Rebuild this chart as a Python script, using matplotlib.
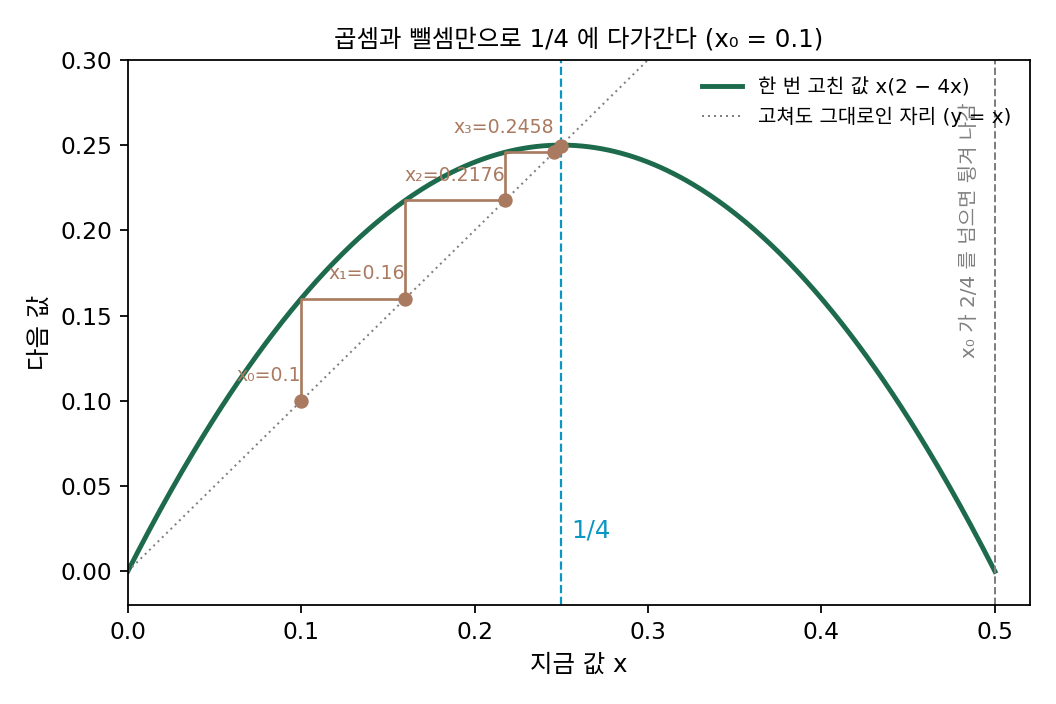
import numpy as np
import matplotlib
matplotlib.use("Agg")
import matplotlib.pyplot as plt

plt.rcParams['font.family'] = ['DejaVu Sans', 'Noto Sans CJK KR']
plt.rcParams['axes.unicode_minus'] = False
plt.rcParams['xtick.labelsize'] = 10.5
plt.rcParams['ytick.labelsize'] = 10.5

# iterates
iterates = [0.1, 0.16, 0.2176, 0.2458, 0.2497]
labels = ["x₀=0.1", "x₁=0.16", "x₂=0.2176", "x₃=0.2458"]

green = "#1d6b4c"
brown = "#a97a60"
blue = "#0a95c2"

fig, ax = plt.subplots(figsize=(6.6, 4.4), dpi=160)

xs = np.linspace(0, 0.5, 400)
ax.plot(xs, xs * (2 - 4 * xs), color=green, lw=2.2, label="한 번 고친 값 x(2 − 4x)")
ax.plot([0, 0.52], [0, 0.52], color="gray", lw=0.9, ls=(0, (1, 2)), label="고쳐도 그대로인 자리 (y = x)")

# cobweb staircase
sx, sy = [iterates[0]], [iterates[0]]
for a, b in zip(iterates[:-1], iterates[1:]):
    sx += [a, b]
    sy += [b, b]
ax.plot(sx, sy, color=brown, lw=1.2)
ax.scatter(iterates, iterates, color=brown, s=30, zorder=5)

for v, lab in zip(iterates[:4], labels):
    ax.annotate(lab, (v, v), xytext=(0, 7), textcoords="offset points",
                ha="right", va="bottom", color=brown, fontsize=8.5)

ax.axvline(0.25, color=blue, ls="--", lw=1)
ax.text(0.2555, 0.02, "1/4", color=blue, fontsize=11)
ax.axvline(0.5, color="gray", ls="--", lw=0.9)
ax.text(0.4855, 0.2, "x₀ 가 2/4 를 넘으면 튕겨 나감", rotation=90, color="gray",
        fontsize=9, ha="center", va="center")

ax.set_xlim(0, 0.52)
ax.set_ylim(-0.02, 0.30)
ax.set_xlabel("지금 값 x", fontsize=11)
ax.set_ylabel("다음 값", fontsize=11)
ax.set_title("곱셈과 뺄셈만으로 1/4 에 다가간다 (x₀ = 0.1)", fontsize=11)
ax.legend(loc="upper right", frameon=False, fontsize=9)

fig.subplots_adjust(left=0.121, right=0.975, top=0.915, bottom=0.14)
fig.savefig("out.png")
